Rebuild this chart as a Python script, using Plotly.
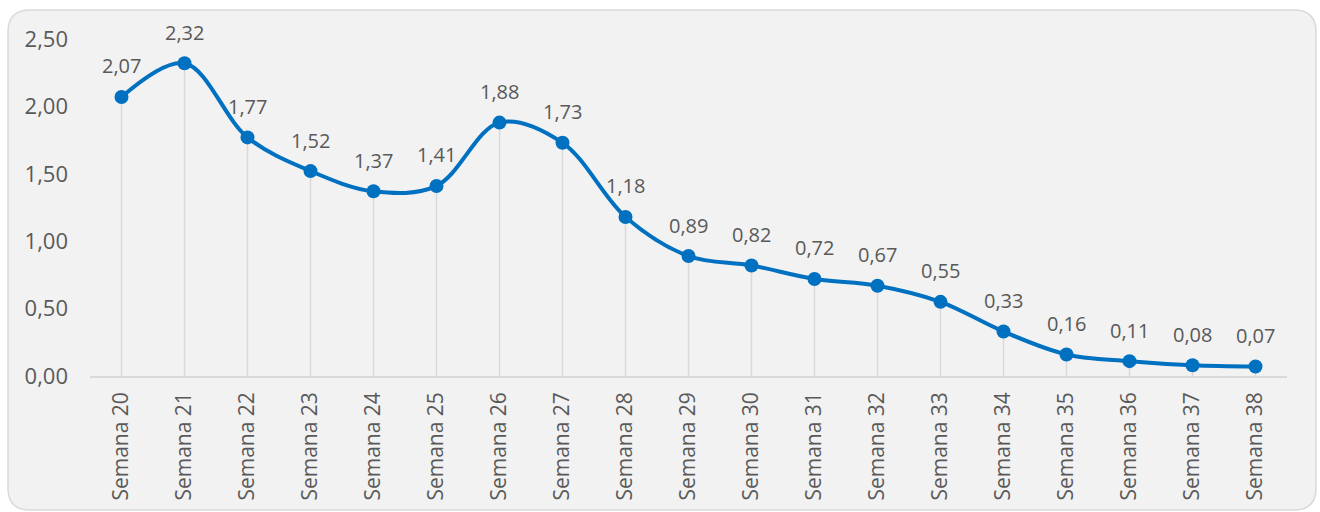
import plotly.graph_objects as go

# Weekly values
semanas = [f"Semana {n}" for n in range(20, 39)]
valores = [2.07, 2.32, 1.77, 1.52, 1.37, 1.41, 1.88, 1.73, 1.18, 0.89,
           0.82, 0.72, 0.67, 0.55, 0.33, 0.16, 0.11, 0.08, 0.07]
y_ticks = [0, 0.5, 1.0, 1.5, 2.0, 2.5]

W, H = 1320, 512
ML, MR, MT, MB = 90, 33, 39, 136
PW, PH = W - ML - MR, H - MT - MB

BLUE = "#0070C0"
GRAY_TXT = "#595959"
FONT = "Open Sans"


def px_to_paper(x, y):
    return (x - ML) / PW, 1 - (y - MT) / PH


def rounded_rect_path(x0, y0, x1, y1, r):
    # corners given in pixels, converted to paper coordinates
    def P(x, y):
        u, v = px_to_paper(x, y)
        return f"{u:.5f},{v:.5f}"
    return (f"M {P(x0 + r, y0)} L {P(x1 - r, y0)} Q {P(x1, y0)} {P(x1, y0 + r)} "
            f"L {P(x1, y1 - r)} Q {P(x1, y1)} {P(x1 - r, y1)} "
            f"L {P(x0 + r, y1)} Q {P(x0, y1)} {P(x0, y1 - r)} "
            f"L {P(x0, y0 + r)} Q {P(x0, y0)} {P(x0 + r, y0)} Z")


fig = go.Figure()

# thin drop lines from each point down to the axis
fig.add_trace(go.Scatter(
    x=semanas, y=valores, mode="markers",
    marker=dict(size=1, color="rgba(0,0,0,0)"),
    error_y=dict(type="data", symmetric=False, array=[0] * len(valores),
                 arrayminus=valores, color="#D9D9D9", thickness=1.5, width=0),
    hoverinfo="skip", showlegend=False,
))

# smoothed line with markers
fig.add_trace(go.Scatter(
    x=semanas, y=valores, mode="lines+markers",
    line=dict(color=BLUE, width=4, shape="spline", smoothing=1),
    marker=dict(size=14, color=BLUE),
    showlegend=False,
))

# value labels above each point
for s, v in zip(semanas, valores):
    fig.add_annotation(
        x=s, y=v, text=f"{v:.2f}".replace(".", ","),
        showarrow=False, yshift=31, xanchor="center", yanchor="middle",
        font=dict(family=FONT, size=20, color=GRAY_TXT),
    )

fig.add_shape(
    type="path", xref="paper", yref="paper",
    path=rounded_rect_path(8, 10, 1316, 510, 22),
    fillcolor="#F2F2F2", line=dict(color="#D9D9D9", width=1.5), layer="below",
)

fig.update_layout(
    width=W, height=H,
    margin=dict(l=ML, r=MR, t=MT, b=MB),
    paper_bgcolor="white", plot_bgcolor="rgba(0,0,0,0)",
    separators=",.",
    font=dict(family=FONT, color=GRAY_TXT),
    xaxis=dict(
        type="category", range=[-0.5, len(semanas) - 0.5],
        showgrid=False, zeroline=False,
        showline=True, linecolor="#D9D9D9", linewidth=1.5,
        ticks="", tickangle=-90,
        tickfont=dict(family=FONT, size=21, color=GRAY_TXT),
        ticklabelstandoff=6,
    ),
    yaxis=dict(
        range=[0, 2.5], tickvals=y_ticks, tickformat=".2f",
        showgrid=False, zeroline=False, showline=False, ticks="",
        tickfont=dict(family=FONT, size=22, color=GRAY_TXT),
        ticklabelstandoff=21,
    ),
)

fig.write_html("out.html")
